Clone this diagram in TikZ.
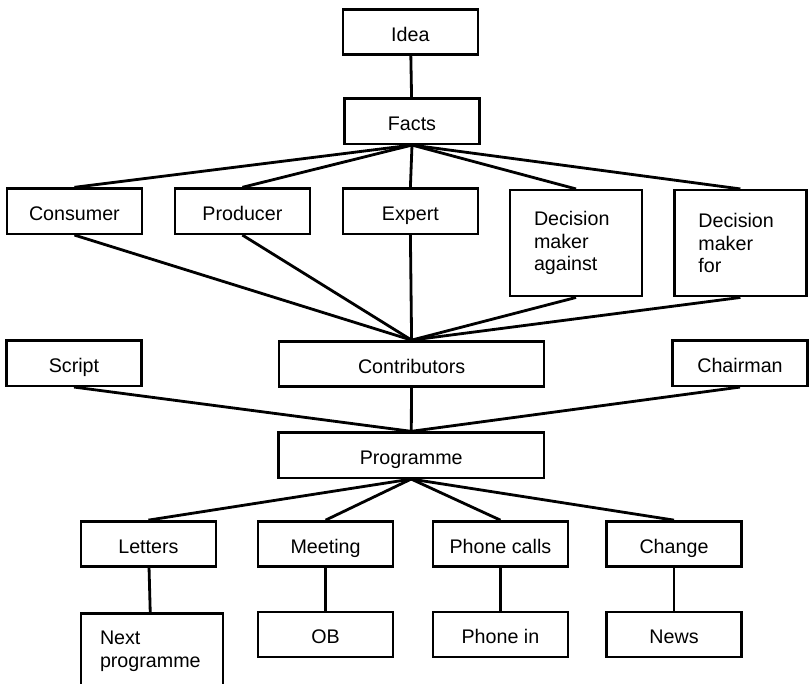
\documentclass[tikz,border=0pt]{standalone}
\usepackage{fontspec}
\setmainfont{Liberation Sans}

\tikzset{
  box/.style={draw, line width=1.8pt, minimum width=3.38cm, minimum height=1.13cm,
    text height=14pt, text depth=1pt, font=\fontsize{14}{16}\selectfont},
  widebox/.style={box, minimum width=6.63cm},
  tallbox/.style={box, text height={}, text depth={}, minimum height=2.65cm,
    text width=2.1cm, inner xsep=0.6cm, align=left},
  link/.style={line width=2pt}
}

\begin{document}
\begin{tikzpicture}
 \useasboundingbox (0,0) rectangle (20.225,-17.1);
 \clip (0,0) rectangle (20.225,-17.1);

 \node[box] (idea)  at (10.26, -0.8)  {Idea};
 \node[box] (facts) at (10.3, -3.03) {Facts};

 \node[box] (consumer) at (1.86, -5.28) {Consumer};
 \node[box] (producer) at (6.06, -5.28) {Producer};
 \node[box] (expert)   at (10.26, -5.28) {Expert};
 \node[tallbox, minimum width=3.3cm] (against) at (14.4, -6.08) {Decision\\maker\\against};
 \node[tallbox, minimum width=3.3cm] (for)     at (18.51, -6.08) {Decision\\maker\\for};

 \node[box]     (script)       at (1.85, -9.08)  {Script};
 \node[widebox] (contributors) at (10.29, -9.1)  {Contributors};
 \node[box]     (chairman)     at (18.5, -9.08)  {Chairman};

 \node[widebox] (programme) at (10.28, -11.38) {Programme};

 \node[box] (letters)    at (3.71, -13.6)  {Letters};
 \node[box] (meeting)    at (8.14, -13.6)  {Meeting};
 \node[box] (phonecalls) at (12.51, -13.6) {Phone calls};
 \node[box] (change)     at (16.85, -13.6) {Change};

 \node[box, anchor=north, minimum width=3.55cm, text width=2.6cm, inner xsep=0.475cm,
   inner ysep=0.45cm, text height={}, text depth=2cm, align=left] (next) at (3.8, -15.3) {Next\\programme};
 \node[box] (ob)      at (8.14, -15.86)  {OB};
 \node[box] (phonein) at (12.51, -15.86) {Phone in};
 \node[box] (news)    at (16.85, -15.86) {News};

 \draw[link] (idea) to (facts);
 \foreach \n in {consumer, producer, expert, against, for}
   \draw[link] (facts.south) to (\n.north);
 \foreach \n in {consumer, producer, expert, against, for}
   \draw[link] (\n.south) to (contributors.north);

 \draw[link] (script.south) to (programme.north);
 \draw[link] (contributors) to (programme);
 \draw[link] (chairman.south) to (programme.north);

 \foreach \n in {letters, meeting, phonecalls, change}
   \draw[link] (programme.south) to (\n.north);
 \draw[link] (letters) to (next);
 \draw[link] (meeting) to (ob);
 \draw[link] (phonecalls) to (phonein);
 \draw[link] (change) to (news);
\end{tikzpicture}
\end{document}
